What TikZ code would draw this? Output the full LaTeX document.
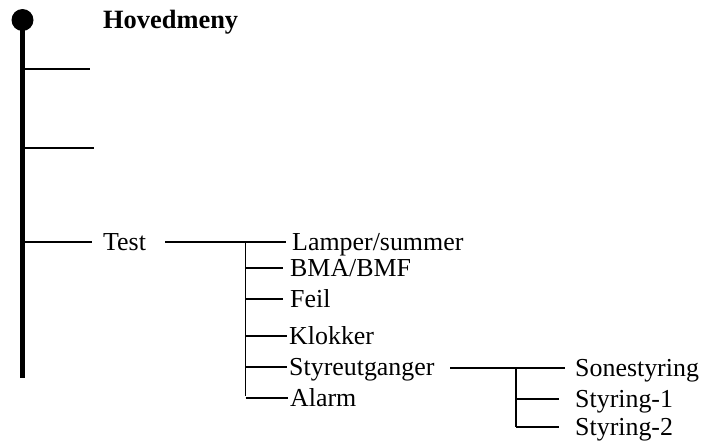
\documentclass[tikz,border=0pt]{standalone}
\usepackage{fontspec}
\setmainfont{Liberation Serif}
\begin{document}
\begin{tikzpicture}[x=1pt,y=-1pt,
  lbl/.style={anchor=west,inner sep=0pt,text height=17pt,text depth=0pt,font=\fontsize{25.9pt}{30pt}\selectfont},
  br/.style={line width=1.5pt},
  thin/.style={line width=1.1pt}]
\useasboundingbox (0,0) rectangle (703,445);
% main bar
\coordinate (top) at (22.5,20);
\coordinate (bot) at (22.5,378);
\draw[line width=5pt] (top) -- (bot);
\fill (top) circle (11);
\node[lbl,font=\fontsize{26.4pt}{30pt}\selectfont\bfseries] (hoved) at (103,20) {Hovedmeny};
% empty branches
\coordinate (b1s) at (22.5,69); \coordinate (b1e) at (90,69);
\coordinate (b2s) at (22.5,148); \coordinate (b2e) at (94,148);
\draw[br] (b1s) -- (b1e);
\draw[br] (b2s) -- (b2e);
% Test
\coordinate (b3s) at (22.5,242);
\node[lbl] (test) at (103,242) {Test};
\draw[br] (b3s) -- ([xshift=-11pt]test.west);
\coordinate (ts) at (165,242);
\coordinate (j1) at (245.5,242);
\node[lbl] (lamper) at (292,242) {Lamper/summer};
\node[lbl] (bma) at (290,268) {BMA/BMF};
\node[lbl] (feil) at (290,299) {Feil};
\node[lbl] (klokker) at (289,336) {Klokker};
\node[lbl] (styre) at (289,367) {Styreutganger};
\node[lbl] (alarm) at (290,398) {Alarm};
\draw[br] (ts) -- ([xshift=-6pt]lamper.west);
\draw[br] (j1) -- ([yshift=2pt]j1 |- alarm.west);
\draw[br] (j1 |- bma.west) -- ([xshift=-7pt]bma.west);
\draw[br] (j1 |- feil.west) -- ([xshift=-7pt]feil.west);
\draw[br] (j1 |- klokker.west) -- ([xshift=-2pt]klokker.west);
\draw[br] (j1 |- styre.west) -- ([xshift=-2pt]styre.west);
\draw[br] (j1 |- alarm.west) -- ([xshift=-2pt]alarm.west);
% Styreutganger sub
\coordinate (ss) at (450,368);
\coordinate (j2) at (516,368);
\node[lbl] (sone) at (575,368) {Sonestyring};
\node[lbl] (st1) at (575,399) {Styring-1};
\node[lbl] (st2) at (575,427) {Styring-2};
\draw[thin] (ss) -- ([xshift=-10pt]sone.west);
\draw[thin] (j2) -- (j2 |- st2.west);
\draw[line width=1.8pt] (j2 |- st1.west) -- ([xshift=-16pt]st1.west);
\draw[line width=1.8pt] (j2 |- st2.west) -- ([xshift=-16pt]st2.west);
\end{tikzpicture}
\end{document}
